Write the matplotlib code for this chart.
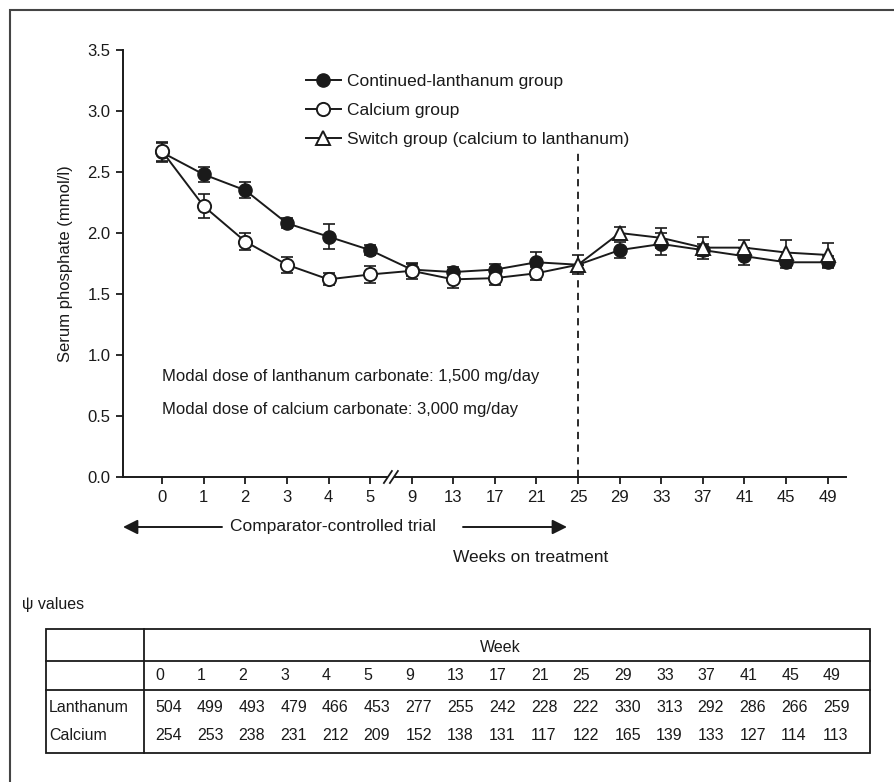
import numpy as np
import matplotlib
matplotlib.use('Agg')
import matplotlib.pyplot as plt
from matplotlib.lines import Line2D
from matplotlib.patches import Rectangle, FancyArrowPatch

plt.rcParams['font.family'] = ['Liberation Sans', 'DejaVu Sans']

# weeks on treatment (categorical x positions)
weeks = [0, 1, 2, 3, 4, 5, 9, 13, 17, 21, 25, 29, 33, 37, 41, 45, 49]

# serum phosphate (mmol/l)
lanthanum = [2.66, 2.48, 2.35, 2.08, 1.97, 1.86, 1.70, 1.68, 1.70, 1.76, 1.74,
             1.86, 1.91, 1.86, 1.81, 1.76, 1.76]
lanthanum_err = [0.08, 0.065, 0.065, 0.04, 0.10, 0.04, 0.05, 0.04, 0.05, 0.085, 0.0,
                 0.065, 0.09, 0.05, 0.07, 0.05, 0.05]
calcium = [2.67, 2.22, 1.93, 1.74, 1.62, 1.66, 1.69, 1.62, 1.63, 1.67, 1.74]
calcium_err = [0.08, 0.10, 0.07, 0.065, 0.05, 0.07, 0.065, 0.07, 0.06, 0.055, 0.0]
switch = [1.74, 2.00, 1.96, 1.88, 1.88, 1.84, 1.82]
switch_err = [0.08, 0.05, 0.08, 0.09, 0.065, 0.10, 0.10]

# psi values table
psi_lanthanum = [504, 499, 493, 479, 466, 453, 277, 255, 242, 228, 222, 330, 313,
                 292, 286, 266, 259]
psi_calcium = [254, 253, 238, 231, 212, 209, 152, 138, 131, 117, 122, 165, 139,
               133, 127, 114, 113]

W, H = 894, 782
INK = '#1a1a1a'


def px(x, y):
    '''pixel position (from top-left) -> figure fraction'''
    return x / W, 1 - y / H


def main():
    fig = plt.figure(figsize=(W / 100, H / 100), dpi=100)
    ax = fig.add_axes([123 / W, 1 - 477 / H, (846 - 123) / W, (477 - 50) / H])

    pos = np.arange(len(weeks))
    n_ca = len(calcium)
    n_sw = len(switch)

    ebkw = dict(fmt='none', ecolor=INK, elinewidth=1.2, capsize=4.5, capthick=1.2)
    # continued-lanthanum group
    ax.errorbar(pos, lanthanum, yerr=lanthanum_err, zorder=2, **ebkw)
    ax.plot(pos, lanthanum, '-o', color=INK, lw=1.4, ms=9.5, mfc=INK, mec=INK,
            markevery=[i for i in range(len(pos)) if weeks[i] != 25], zorder=2.1)
    # calcium group
    ax.errorbar(pos[:n_ca - 1], calcium[:-1], yerr=calcium_err[:-1], zorder=3, **ebkw)
    ax.plot(pos[:n_ca], calcium, '-o', color=INK, lw=1.4, ms=9.5, mfc='white', mec=INK,
            mew=1.4, markevery=list(range(n_ca - 1)), zorder=3.1)
    # switch group
    ax.errorbar(pos[-n_sw:], switch, yerr=switch_err, zorder=4, **ebkw)
    ax.plot(pos[-n_sw:], switch, '-^', color=INK, lw=1.4, ms=10, mfc='white', mec=INK,
            mew=1.4, zorder=4.1)

    # switch point dashed line
    i25 = weeks.index(25)
    ax.plot([pos[i25], pos[i25]], [0, 2.68], color=INK, lw=1.3, ls=(0, (4, 3)), zorder=1)

    ax.set_xlim(-0.94, 16.44)
    ax.set_ylim(0, 3.5)
    ax.set_xticks(pos)
    ax.set_xticklabels([str(w) for w in weeks])
    ax.set_yticks(np.arange(0, 3.51, 0.5))
    ax.set_yticklabels(['{0:.1f}'.format(v) for v in np.arange(0, 3.51, 0.5)])
    ax.tick_params(direction='out', length=5, width=1.3, colors=INK, labelsize=12, pad=4)
    for s in ['top', 'right']:
        ax.spines[s].set_visible(False)
    for s in ['left', 'bottom']:
        ax.spines[s].set_linewidth(1.4)
        ax.spines[s].set_color(INK)
    ax.set_ylabel('Serum phosphate (mmol/l)', fontsize=12, color=INK, labelpad=10)

    ax.text(0, 0.82, 'Modal dose of lanthanum carbonate: 1,500 mg/day', fontsize=12,
            color=INK, va='center')
    ax.text(0, 0.55, 'Modal dose of calcium carbonate: 3,000 mg/day', fontsize=12,
            color=INK, va='center')

    handles = [
        Line2D([], [], color=INK, lw=1.4, marker='o', ms=9.5, mfc=INK, mec=INK),
        Line2D([], [], color=INK, lw=1.4, marker='o', ms=9.5, mfc='white', mec=INK, mew=1.4),
        Line2D([], [], color=INK, lw=1.4, marker='^', ms=10, mfc='white', mec=INK, mew=1.4),
    ]
    labels = ['Continued-lanthanum group', 'Calcium group',
              'Switch group (calcium to lanthanum)']
    fig.legend(handles, labels, loc='upper left', bbox_to_anchor=px(306, 74),
               frameon=False, fontsize=12.5, handlelength=2.0, handletextpad=0.35,
               labelspacing=0.8, borderpad=0, borderaxespad=0, labelcolor=INK)

    # axis break marks between week 5 and week 9
    fig.canvas.draw()
    bx, by = ax.transData.transform((pos[5] + 0.5, 0))
    by = H - by
    fig.add_artist(Rectangle(px(bx - 3, by + 2), 6 / W, 4 / H, transform=fig.transFigure,
                             facecolor='white', edgecolor='none', zorder=10))
    for dx in (-3, 3):
        x0, y0 = px(bx + dx - 4, by + 6)
        x1, y1 = px(bx + dx + 4, by - 6)
        fig.add_artist(Line2D([x0, x1], [y0, y1], color=INK, lw=1.3, zorder=11))

    # comparator-controlled trial arrows
    fig.text(*px(230, 527), 'Comparator-controlled trial', fontsize=12.5, color=INK,
             va='center', ha='left')
    akw = dict(arrowstyle='-|>', color=INK, lw=1.4, mutation_scale=22, shrinkA=0, shrinkB=0)
    fig.add_artist(FancyArrowPatch(px(222, 527), px(123, 527),
                                   transform=fig.transFigure, **akw))
    fig.add_artist(FancyArrowPatch(px(463, 527), px(567, 527),
                                   transform=fig.transFigure, **akw))
    fig.text(*px(453, 558), 'Weeks on treatment', fontsize=12.5, color=INK,
             va='center', ha='left')

    # psi values table
    fig.text(*px(22, 604), '\u03c8 values', fontsize=11.5, color=INK, va='center')
    tl, tr, tt, tb = 46, 870, 629, 753
    fig.add_artist(Rectangle(px(tl, tb), (tr - tl) / W, (tb - tt) / H,
                             transform=fig.transFigure, facecolor='none',
                             edgecolor=INK, lw=1.3))
    for yy in (661, 690):
        fig.add_artist(Line2D([tl / W, tr / W], [1 - yy / H] * 2, color=INK, lw=1.3))
    fig.add_artist(Line2D([144 / W] * 2, [1 - tt / H, 1 - tb / H], color=INK, lw=1.3))
    tfs = 11.5
    fig.text(*px(480, 647), 'Week', fontsize=tfs, color=INK, va='center')
    fig.text(*px(49, 707), 'Lanthanum', fontsize=tfs, color=INK, va='center')
    fig.text(*px(49, 735), 'Calcium', fontsize=tfs, color=INK, va='center')
    for i, w in enumerate(weeks):
        cx = 155 + 41.75 * i
        fig.text(*px(cx, 675), str(w), fontsize=tfs, color=INK, va='center')
        fig.text(*px(cx, 707), str(psi_lanthanum[i]), fontsize=tfs, color=INK, va='center')
        fig.text(*px(cx, 735), str(psi_calcium[i]), fontsize=tfs, color=INK, va='center')

    # outer frame (only left/top edges fall inside the picture)
    fig.add_artist(Rectangle(px(10, 800), 900 / W, 790 / H, transform=fig.transFigure,
                             facecolor='none', edgecolor='#444444', lw=1.5))

    fig.savefig('out.png', dpi=100)


if __name__ == '__main__':
    main()
